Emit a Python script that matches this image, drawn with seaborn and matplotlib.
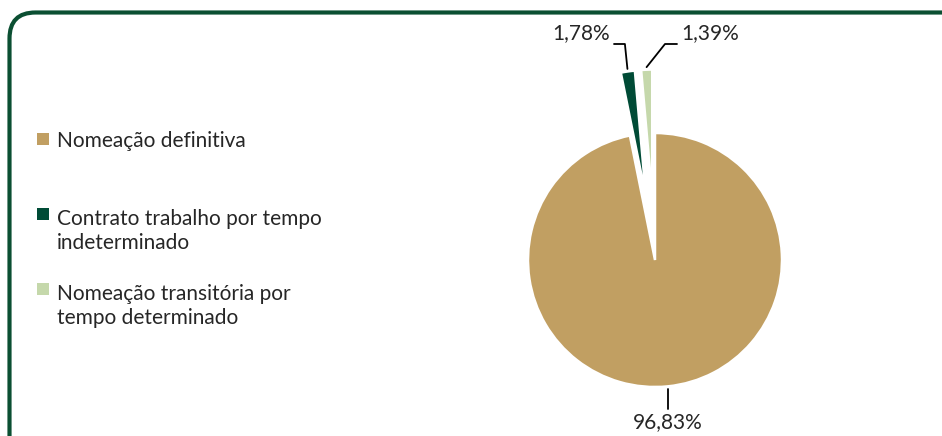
import numpy as np
import matplotlib
matplotlib.use("Agg")
import matplotlib.pyplot as plt
import seaborn as sns
from matplotlib.patches import FancyBboxPatch, Rectangle
from matplotlib.transforms import IdentityTransform

# --- DATOS ---
categorias = ['Nomeação definitiva',
              'Contrato trabalho por tempo\nindeterminado',
              'Nomeação transitória por\ntempo determinado']
valores = [96.83, 1.78, 1.39]
rotulos = ['96,83%', '1,78%', '1,39%']
separacao = [0.0, 0.5, 0.5]
cores = ['#C19F62', '#004B36', '#C5D8AB']

sns.set_theme(style="white")
plt.rcParams['font.family'] = ['Lato', 'DejaVu Sans']

W, H = 942, 436
fig = plt.figure(figsize=(W / 100, H / 100), dpi=100)

# borda arredondada (sai pela direita e por baixo)
borda = FancyBboxPatch((9.5, -40), 1000, 463.5,
                       boxstyle="round,pad=0,rounding_size=26",
                       transform=IdentityTransform(), fill=False,
                       edgecolor='#0B4F32', linewidth=3)
fig.add_artist(borda)

# eixo da pizza: raio = 127 px, centro em (655, 260) px
cx, cy, r = 655, 260, 127
ax = fig.add_axes([(cx - 200) / W, 0, 400 / W, 1])
wedges, _ = ax.pie(valores, colors=cores, startangle=90, counterclock=False,
                   explode=separacao, radius=1,
                   wedgeprops=dict(edgecolor='white', linewidth=1.8))
ax.set_xlim(-200 / r, 200 / r)
ax.set_ylim(-(H - cy) / r, cy / r)
ax.set_aspect('auto')
ax.axis('off')


# ponto na borda externa de cada fatia
def ponta(w, k=1.02):
    th = np.deg2rad((w.theta1 + w.theta2) / 2)
    c = np.array(w.center)
    return c + k * w.r * np.array([np.cos(th), np.sin(th)])


fs = 15
# fatia grande: linha vertical para baixo
p = ponta(wedges[0])
ax.plot([p[0], p[0]], [p[1], p[1] - 0.16], color='black', lw=1.3)
ax.text(p[0], p[1] - 0.18, rotulos[0], ha='center', va='top', fontsize=fs)

# fatia verde escura
p = ponta(wedges[1])
yl = (cy - 44) / r
xe = (614 - cx) / r
ax.plot([p[0], p[0] - 0.02, xe], [p[1], yl, yl], color='black', lw=1.3)
ax.text(xe - 0.03, (cy - 33) / r, rotulos[1], ha='right', va='center', fontsize=fs)

# fatia verde clara
p = ponta(wedges[2])
xd = (665 - cx) / r
xe = (677 - cx) / r
ax.plot([p[0], xd, xe], [p[1], yl, yl], color='black', lw=1.3)
ax.text(xe + 0.03, (cy - 33) / r, rotulos[2], ha='left', va='center', fontsize=fs)

# legenda manual (marcador alinhado com a primeira linha)
ys = [139, 214, 289]
passo = 27  # distância entre linhas, px
for cor, txt, y in zip(cores, categorias, ys):
    fig.add_artist(Rectangle((37 / W, 1 - (y + 6) / H), 12 / W, 12 / H,
                             transform=fig.transFigure, facecolor=cor,
                             edgecolor='none'))
    n = txt.count('\n')
    fig.text(57 / W, 1 - (y + 8 + n * passo) / H, txt, ha='left', va='baseline',
             fontsize=fs, linespacing=1.25)

fig.savefig('out.png', dpi=100)
